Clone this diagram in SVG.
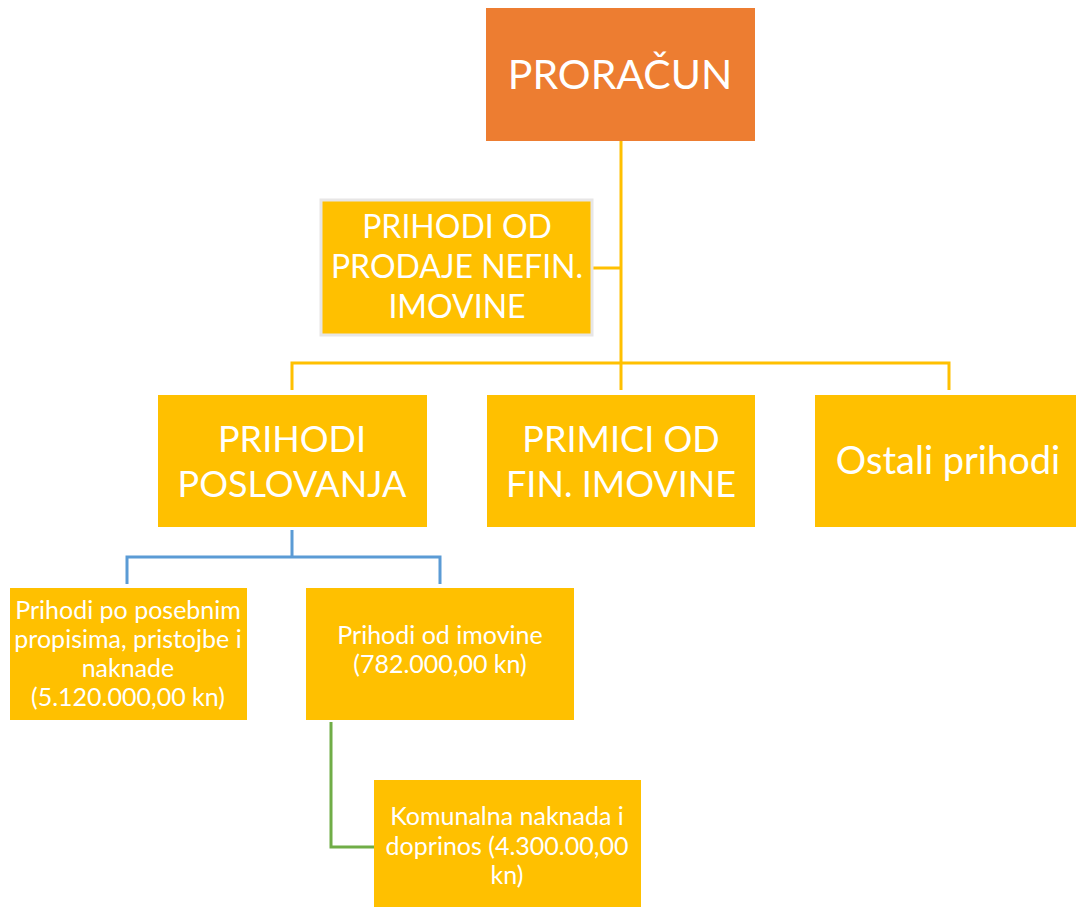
<svg xmlns="http://www.w3.org/2000/svg" width="1076" height="908" viewBox="0 0 1076 908">
<style>
.box{fill:#FFC000}
.t{fill:#fff;font-family:Lato,"Liberation Sans",sans-serif;text-anchor:middle}
.y{stroke:#FFC000;stroke-width:3;fill:none}
.b{stroke:#5B9BD5;stroke-width:3;fill:none}
.g{stroke:#70AD47;stroke-width:3;fill:none}
</style>
<rect width="1076" height="908" fill="#fff"/>
<g id="connectors">
<path class="y" d="M621 141V390M592 268H621M292 390V363H949V390"/>
<path class="b" d="M292 530V557M127 584V557H440V584"/>
<path class="g" d="M331 722V847H374"/>
</g>
<g id="proracun">
<rect x="486" y="8" width="269" height="133" fill="#ED7D31"/>
<text class="t" x="620" y="89" font-size="41">PRORAČUN</text>
</g>
<g id="prodaje">
<rect x="321" y="200" width="271" height="135" fill="#FFC000" stroke="#E7E6E6" stroke-width="3"/>
<text class="t" font-size="32"><tspan x="457" y="238">PRIHODI OD</tspan><tspan x="457" y="278">PRODAJE NEFIN.</tspan><tspan x="457" y="318">IMOVINE</tspan></text>
</g>
<g id="poslovanja">
<rect class="box" x="158" y="395" width="269" height="132"/>
<text class="t" font-size="36"><tspan x="292" y="452">PRIHODI</tspan><tspan x="292" y="497">POSLOVANJA</tspan></text>
</g>
<g id="primici">
<rect class="box" x="487" y="395" width="268" height="132"/>
<text class="t" font-size="36"><tspan x="621" y="452">PRIMICI OD</tspan><tspan x="621" y="497">FIN. IMOVINE</tspan></text>
</g>
<g id="ostali">
<rect class="box" x="815" y="395" width="270" height="132"/>
<text class="t" x="948" y="474" font-size="38">Ostali prihodi</text>
</g>
<g id="posebnim">
<rect class="box" x="10" y="588" width="237" height="132"/>
<text class="t" font-size="25"><tspan x="128" y="619">Prihodi po posebnim</tspan><tspan x="128" y="648">propisima, pristojbe i</tspan><tspan x="128" y="677">naknade</tspan><tspan x="128" y="706">(5.120.000,00 kn)</tspan></text>
</g>
<g id="imovine">
<rect class="box" x="306" y="588" width="268" height="132"/>
<text class="t" font-size="25"><tspan x="440" y="644">Prihodi od imovine</tspan><tspan x="440" y="673">(782.000,00 kn)</tspan></text>
</g>
<g id="komunalna">
<rect class="box" x="374" y="780" width="267" height="127"/>
<text class="t" font-size="25"><tspan x="507" y="825">Komunalna naknada i</tspan><tspan x="507" y="855">doprinos (4.300.00,00</tspan><tspan x="507" y="884">kn)</tspan></text>
</g>
</svg>
